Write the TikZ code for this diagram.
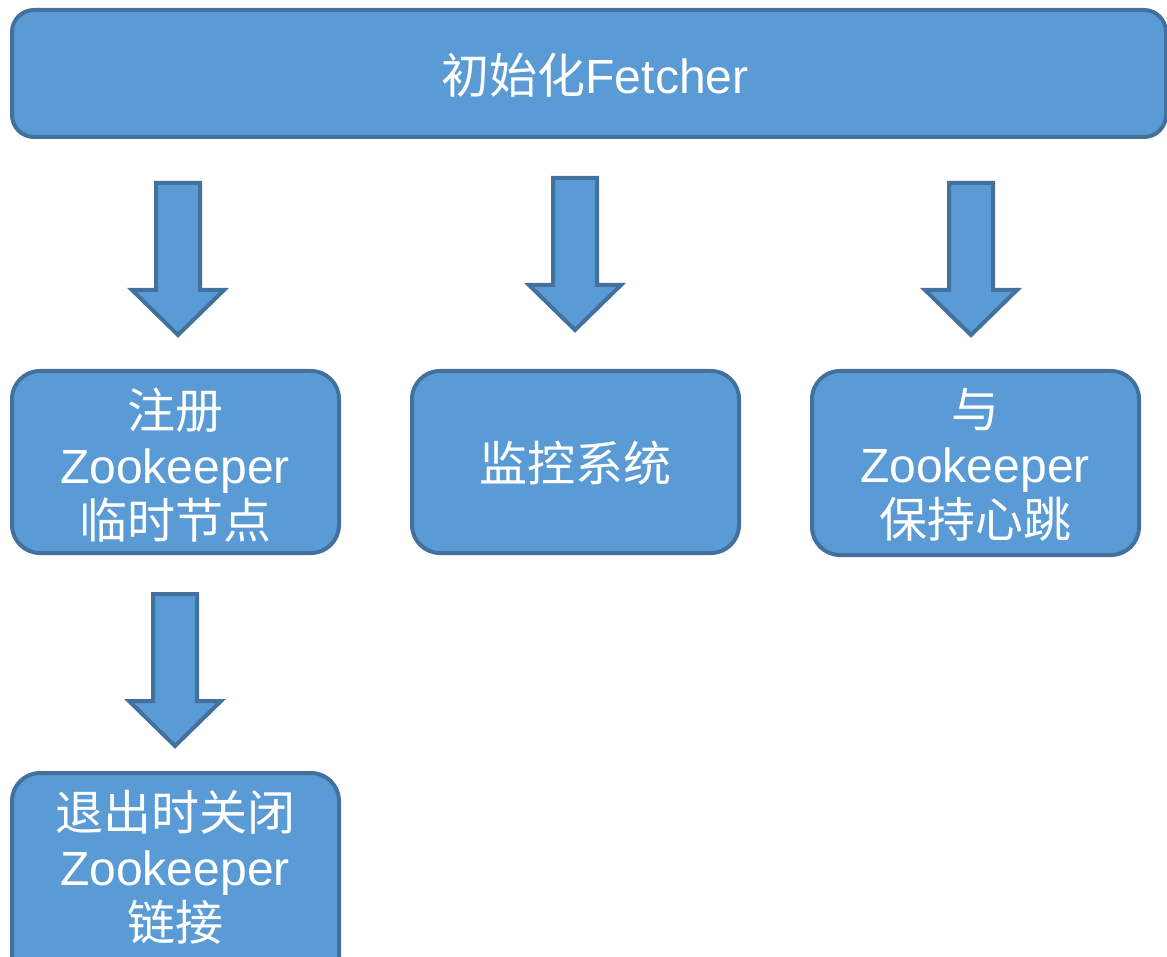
\documentclass[tikz,border=0pt]{standalone}
\usepackage{fontspec}
\setmainfont{Liberation Sans}
\newfontfamily\cjk{Noto Sans CJK SC}
\definecolor{boxfill}{HTML}{5B9BD5}
\definecolor{boxline}{HTML}{41719C}
\tikzset{
  box/.style={draw=boxline, fill=boxfill, line width=4pt, rounded corners=28pt},
  lbl/.style={text=white, align=center, font=\fontsize{48}{55}\selectfont, inner sep=0pt},
  blockarrow/.pic={
    \draw[draw=boxline, fill=boxfill, line width=4pt, line join=miter]
      (-22,0) -- (22,0) -- (22,107) -- (46,107) -- (0,152) -- (-46,107) -- (-22,107) -- cycle;
  }
}
\begin{document}
\begin{tikzpicture}[x=1pt,y=-1pt]
\useasboundingbox (0,0) rectangle (1167,957);
% top bar
\draw[box, rounded corners=22pt] (12,10) rectangle (1166,137);
\node[lbl, font=\fontsize{48}{55}\selectfont] (top) at (595,75) {{\cjk 初始化}Fetcher};
% arrows
\pic (a1) at (178,183) {blockarrow};
\pic (a2) at (575,178) {blockarrow};
\pic (a3) at (971,183) {blockarrow};
\pic (a4) at (175,594) {blockarrow};
% boxes
\draw[box] (12,371) rectangle (339,553);
\node[lbl] (b1) at (175,465) {{\cjk 注册}\\Zookeeper\\{\cjk 临时节点}};
\draw[box] (412,371) rectangle (739,553);
\node[lbl] (b2) at (575,463) {{\cjk 监控系统}};
\draw[box] (812,371) rectangle (1139,555);
\node[lbl] (b3) at (975,465) {{\cjk 与}\\Zookeeper\\{\cjk 保持心跳}};
\draw[box] (12,773) rectangle (339,985);
\node[lbl] (b4) at (175,867) {{\cjk 退出时关闭}\\Zookeeper\\{\cjk 链接}};
\end{tikzpicture}
\end{document}
